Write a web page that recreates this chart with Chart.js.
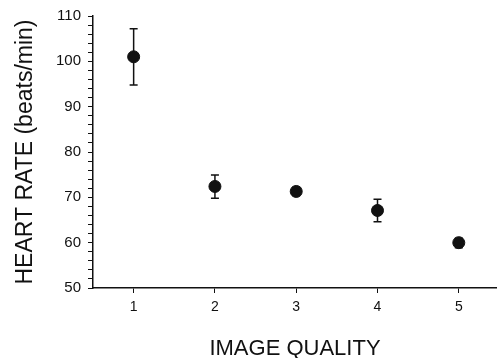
<!DOCTYPE html>
<html>
<head>
<meta charset="utf-8">
<script src="https://cdn.jsdelivr.net/npm/chart.js@4"></script>
<style>
  html, body { margin: 0; padding: 0; background: #fff; }
  #wrap { width: 497px; height: 358px; }
</style>
</head>
<body>
<div id="wrap"><canvas id="chart"></canvas></div>
<script>
// Data
const quality = [1, 2, 3, 4, 5];
const heartRate = [101.0, 72.4, 71.3, 67.1, 60.0];
const errUpper = [107.2, 74.9, 72.2, 69.6, 61.0];
const errLower = [94.8, 69.8, 70.4, 64.6, 58.9];

const points = quality.map((q, i) => ({ x: q, y: heartRate[i] }));

// Error bars drawn through the chart scales, under the markers
const errorBars = {
    id: 'errorBars',
    beforeDatasetsDraw(chart) {
        const { ctx, scales } = chart;
        ctx.save();
        ctx.strokeStyle = '#111';
        ctx.lineWidth = 1.5;
        quality.forEach((q, i) => {
            const x = scales.x.getPixelForValue(q);
            const top = scales.y.getPixelForValue(errUpper[i]);
            const bot = scales.y.getPixelForValue(errLower[i]);
            ctx.beginPath();
            ctx.moveTo(x, top);
            ctx.lineTo(x, bot);
            ctx.moveTo(x - 4, top);
            ctx.lineTo(x + 4, top);
            ctx.moveTo(x - 4, bot);
            ctx.lineTo(x + 4, bot);
            ctx.stroke();
        });
        ctx.restore();
    }
};

const font = 'Liberation Sans, Arial, sans-serif';

new Chart(document.getElementById('chart'), {
    type: 'scatter',
    data: {
        datasets: [{
            data: points,
            backgroundColor: '#111',
            borderColor: '#111',
            pointRadius: 6,
            pointHoverRadius: 6
        }]
    },
    options: {
        responsive: true,
        maintainAspectRatio: false,
        animation: false,
        layout: { autoPadding: false, padding: { top: 16, left: 0, right: 0, bottom: 0 } },
        plugins: {
            legend: { display: false },
            tooltip: { enabled: false }
        },
        scales: {
            x: {
                type: 'linear',
                min: 0.5,
                max: 5.47,
                afterFit: s => { s.height = 70; s.paddingLeft = 0; s.paddingRight = 0; },
                afterBuildTicks: s => { s.ticks = quality.map(v => ({ value: v })); },
                border: { display: true, color: '#111', width: 1.5 },
                grid: { drawOnChartArea: false, drawTicks: true, tickLength: 5, color: '#111' },
                ticks: { color: '#111', font: { family: font, size: 14 }, padding: 6 },
                title: {
                    display: true,
                    text: 'IMAGE QUALITY',
                    color: '#111',
                    font: { family: font, size: 22 },
                    padding: { top: 20, bottom: -4 }
                }
            },
            y: {
                min: 50,
                max: 110,
                afterFit: s => { s.width = 93; },
                border: { display: true, color: '#111', width: 1.5 },
                grid: { drawOnChartArea: false, drawTicks: true, tickLength: 5, color: '#111' },
                ticks: {
                    stepSize: 2,
                    autoSkip: false,
                    color: '#111',
                    font: { family: font, size: 15 },
                    padding: 7,
                    callback: v => (v % 10 === 0 ? v : '')
                },
                title: {
                    display: true,
                    text: 'HEART RATE (beats/min)',
                    color: '#111',
                    font: { family: font, size: 23 },
                    padding: { top: 12, bottom: 8 }
                }
            }
        }
    },
    plugins: [errorBars]
});
</script>
</body>
</html>
